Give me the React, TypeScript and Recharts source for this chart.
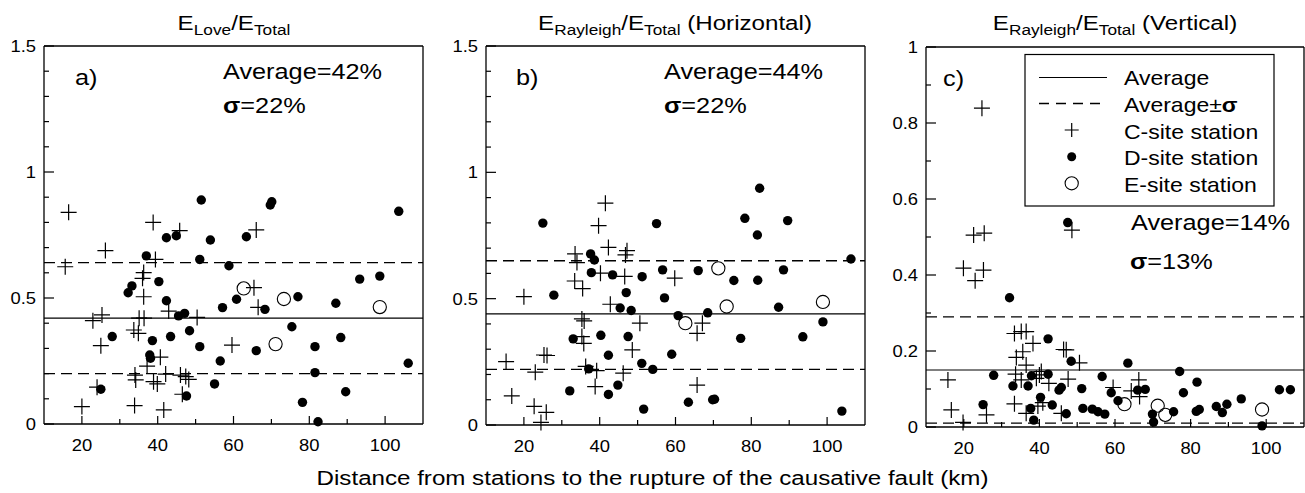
import React from 'react';
import { ScatterChart, Scatter, XAxis, YAxis, ReferenceLine } from 'recharts';

const FONT = '"Liberation Sans", Arial, Helvetica, sans-serif';
const SX = 1.15;

// [distance km, energy ratio]
const loveC = [
  [16.5, 0.84], [38.8, 0.8], [45.8, 0.767], [66.0, 0.77], [26.2, 0.688], [15.6, 0.624],
  [39.4, 0.653], [36.3, 0.601], [36.0, 0.578], [36.3, 0.505], [25.3, 0.433], [22.9, 0.41],
  [42.9, 0.448], [35.1, 0.42], [36.4, 0.42], [50.4, 0.423], [33.7, 0.373], [34.9, 0.36],
  [25.0, 0.311], [40.7, 0.265], [59.6, 0.313], [37.2, 0.23], [34.0, 0.194], [34.2, 0.175],
  [38.9, 0.168], [39.9, 0.159], [42.1, 0.198], [46.0, 0.194], [47.4, 0.188], [48.2, 0.177],
  [24.0, 0.146], [46.5, 0.118], [20.0, 0.069], [33.9, 0.073], [41.6, 0.056], [65.4, 0.541],
  [66.5, 0.463],
];
const loveD = [
  [51.5, 0.889], [69.7, 0.869], [70.1, 0.882], [103.6, 0.844], [42.3, 0.739], [44.9, 0.747],
  [53.9, 0.73], [63.4, 0.743], [37.0, 0.667], [51.1, 0.653], [58.8, 0.628], [93.3, 0.575],
  [98.6, 0.587], [40.3, 0.565], [32.2, 0.521], [33.2, 0.548], [42.3, 0.489], [60.8, 0.495],
  [57.1, 0.462], [77.0, 0.505], [87.0, 0.479], [68.3, 0.455], [45.5, 0.429], [47.1, 0.439],
  [75.4, 0.386], [28.0, 0.347], [38.6, 0.331], [43.4, 0.347], [48.4, 0.37], [51.1, 0.307],
  [66.0, 0.291], [81.5, 0.307], [88.3, 0.343], [37.9, 0.274], [38.1, 0.261], [56.5, 0.25],
  [106.1, 0.241], [81.5, 0.204], [55.0, 0.159], [25.0, 0.138], [47.6, 0.111], [78.2, 0.086],
  [89.6, 0.128], [82.3, 0.009],
];
const loveE = [[62.7, 0.538], [73.3, 0.496], [71.1, 0.317], [98.6, 0.464]];
const loveLines = [0.42, 0.64, 0.2];

const rhC = [
  [41.5, 0.878], [39.7, 0.789], [42.3, 0.703], [33.5, 0.677], [34.0, 0.643], [47.2, 0.69],
  [46.8, 0.673], [40.2, 0.601], [46.6, 0.588], [59.8, 0.581], [33.4, 0.57], [35.5, 0.54],
  [20.0, 0.508], [42.8, 0.478], [35.3, 0.42], [35.9, 0.412], [50.6, 0.403], [35.3, 0.35],
  [35.8, 0.323], [48.6, 0.297], [25.3, 0.277], [26.1, 0.275], [15.3, 0.251], [23.0, 0.209],
  [39.2, 0.215], [46.2, 0.205], [38.8, 0.152], [16.8, 0.115], [22.7, 0.074], [25.9, 0.05],
  [24.5, 0.01], [65.7, 0.158], [67.1, 0.403], [65.7, 0.363], [36.3, 0.232],
];
const rhD = [
  [25.0, 0.799], [55.0, 0.797], [82.2, 0.937], [78.3, 0.818], [89.6, 0.809], [81.6, 0.752],
  [37.6, 0.677], [38.6, 0.653], [37.8, 0.603], [43.4, 0.594], [51.2, 0.587], [56.6, 0.614],
  [66.0, 0.611], [75.4, 0.572], [81.7, 0.573], [88.5, 0.614], [106.3, 0.657], [27.9, 0.514],
  [47.0, 0.524], [57.1, 0.503], [45.4, 0.463], [48.3, 0.453], [60.7, 0.433], [68.5, 0.444],
  [87.2, 0.466], [98.9, 0.408], [33.0, 0.341], [40.3, 0.355], [47.5, 0.35], [77.2, 0.343],
  [93.6, 0.349], [42.3, 0.276], [59.0, 0.28], [51.1, 0.244], [37.1, 0.222], [54.0, 0.22],
  [32.1, 0.135], [42.3, 0.121], [44.8, 0.158], [51.6, 0.063], [63.4, 0.09], [69.8, 0.1],
  [70.3, 0.102], [103.9, 0.055],
];
const rhE = [[71.3, 0.62], [73.5, 0.469], [62.6, 0.403], [98.9, 0.487]];
const rhLines = [0.44, 0.65, 0.22];

const rvC = [
  [24.8, 0.839], [48.6, 0.518], [22.6, 0.505], [25.4, 0.51], [19.9, 0.418], [25.2, 0.413],
  [23.0, 0.385], [33.4, 0.246], [35.2, 0.251], [36.5, 0.251], [38.3, 0.22], [35.6, 0.198],
  [33.9, 0.183], [36.5, 0.163], [40.5, 0.146], [33.7, 0.139], [35.2, 0.124], [39.2, 0.128],
  [40.0, 0.137], [42.5, 0.115], [46.4, 0.204], [47.1, 0.203], [50.6, 0.169], [47.6, 0.126],
  [33.4, 0.061], [36.5, 0.036], [39.6, 0.055], [40.9, 0.064], [45.8, 0.036], [59.5, 0.104],
  [64.3, 0.095], [66.3, 0.124], [66.5, 0.08], [15.8, 0.124], [16.7, 0.045], [26.0, 0.032],
  [19.8, 0.012],
];
const rvD = [
  [47.5, 0.538], [32.1, 0.34], [42.3, 0.232], [48.4, 0.173], [63.4, 0.168], [77.1, 0.146],
  [27.9, 0.136], [37.9, 0.135], [42.3, 0.139], [56.6, 0.133], [81.7, 0.118], [33.0, 0.108],
  [37.0, 0.108], [45.8, 0.104], [45.2, 0.097], [51.2, 0.101], [59.0, 0.09], [66.0, 0.097],
  [68.0, 0.099], [78.1, 0.09], [60.8, 0.069], [40.3, 0.078], [25.1, 0.059], [43.4, 0.058],
  [37.7, 0.049], [47.1, 0.035], [51.5, 0.049], [54.0, 0.047], [55.5, 0.04], [57.3, 0.034],
  [38.5, 0.018], [69.9, 0.034], [70.2, 0.013], [75.5, 0.04], [81.5, 0.041], [82.3, 0.046],
  [86.8, 0.054], [88.4, 0.038], [89.6, 0.06], [93.4, 0.074], [98.9, 0.003], [103.5, 0.098],
  [106.4, 0.098],
];
const rvE = [[62.5, 0.06], [71.3, 0.056], [73.3, 0.032], [98.9, 0.046]];
const rvLines = [0.15, 0.29, 0.01];

const xTicks = [20, 30, 40, 50, 60, 70, 80, 90, 100];
const yTicksAB = [0, 0.1, 0.2, 0.3, 0.4, 0.5, 0.6, 0.7, 0.8, 0.9, 1, 1.1, 1.2, 1.3, 1.4, 1.5];
const yTicksC = [0, 0.1, 0.2, 0.3, 0.4, 0.5, 0.6, 0.7, 0.8, 0.9, 1];

const toPts = (arr: number[][]) => arr.map(([d, v]) => ({ d, v }));

// text stretched a bit wider, like the original figure
function T({ x, y, size, anchor = 'start', children }: any) {
  return (
    <text
      transform={`translate(${x},${y}) scale(${SX},1)`}
      fontSize={size}
      textAnchor={anchor}
      fontFamily={FONT}
      fill="#000"
    >
      {children}
    </text>
  );
}

const crossShape = (p: any) => {
  const { cx, cy } = p;
  if (cx == null || cy == null) return <g />;
  return <path d={`M${cx - 8},${cy}h16M${cx},${cy - 8}v16`} stroke="#000" strokeWidth={1.2} fill="none" />;
};
const dotShape = (p: any) => {
  const { cx, cy } = p;
  if (cx == null || cy == null) return <g />;
  return <circle cx={cx} cy={cy} r={4.7} fill="#000" />;
};
const ringShape = (p: any) => {
  const { cx, cy } = p;
  if (cx == null || cy == null) return <g />;
  return <circle cx={cx} cy={cy} r={6.6} fill="none" stroke="#000" strokeWidth={1.1} />;
};

const xTick = (p: any) => {
  const v = p.payload.value;
  const major = v % 20 === 0;
  return (
    <g>
      <line x1={p.x} x2={p.x} y1={p.y} y2={p.y - (major ? 8 : 5)} stroke="#000" strokeWidth={1.2} />
      {major && <T x={p.x} y={p.y + 27} size={16} anchor="middle">{v}</T>}
    </g>
  );
};

const makeYTick = (step: number) => (p: any) => {
  const v = p.payload.value;
  const major = Math.abs(v / step - Math.round(v / step)) < 1e-6;
  return (
    <g>
      <line x1={p.x} x2={p.x + (major ? 10 : 5)} y1={p.y} y2={p.y} stroke="#000" strokeWidth={1.2} />
      {major && <T x={p.x - 8} y={p.y + 6} size={16} anchor="end">{String(v)}</T>}
    </g>
  );
};

interface PanelProps {
  left: number;
  yw: number;
  top: number;
  w: number;
  h: number;
  yMax: number;
  yTicks: number[];
  step: number;
  lines: number[];
  c: number[][];
  dd: number[][];
  e: number[][];
}

function Panel({ left, yw, top, w, h, yMax, yTicks, step, lines, c, dd, e }: PanelProps) {
  return (
    <div style={{ position: 'absolute', left, top: 0 }}>
      <ScatterChart
        width={yw + w + 3}
        height={top + h + 40}
        margin={{ top, right: 3, bottom: 0, left: 0 }}
      >
        <XAxis
          type="number"
          dataKey="d"
          domain={[10, 110]}
          ticks={xTicks}
          interval={0}
          tick={xTick}
          tickLine={false}
          tickSize={0}
          tickMargin={0}
          height={40}
          axisLine={{ stroke: '#000', strokeWidth: 1.3 }}
        />
        <YAxis
          type="number"
          dataKey="v"
          domain={[0, yMax]}
          ticks={yTicks}
          interval={0}
          tick={makeYTick(step)}
          tickLine={false}
          tickSize={0}
          tickMargin={0}
          width={yw}
          axisLine={{ stroke: '#000', strokeWidth: 1.3 }}
        />
        <ReferenceLine y={yMax} stroke="#000" strokeWidth={1.3} />
        <ReferenceLine x={110} stroke="#000" strokeWidth={1.3} />
        <ReferenceLine y={lines[0]} stroke="#000" strokeWidth={1.2} />
        <ReferenceLine y={lines[1]} stroke="#000" strokeWidth={1.3} strokeDasharray="11 6" />
        <ReferenceLine y={lines[2]} stroke="#000" strokeWidth={1.3} strokeDasharray="11 6" />
        <Scatter data={toPts(c)} shape={crossShape} isAnimationActive={false} />
        <Scatter data={toPts(dd)} shape={dotShape} isAnimationActive={false} />
        <Scatter data={toPts(e)} shape={ringShape} isAnimationActive={false} />
      </ScatterChart>
    </div>
  );
}

export default function App() {
  return (
    <div style={{ position: 'absolute', left: 0, top: 0, width: 1305, height: 493, background: '#fff' }}>
      <Panel left={0} yw={44} top={46} w={379} h={378} yMax={1.5} yTicks={yTicksAB} step={0.5}
        lines={loveLines} c={loveC} dd={loveD} e={loveE} />
      <Panel left={440} yw={46} top={46} w={379} h={379} yMax={1.5} yTicks={yTicksAB} step={0.5}
        lines={rhLines} c={rhC} dd={rhD} e={rhE} />
      <Panel left={880} yw={46} top={47} w={378} h={380} yMax={1} yTicks={yTicksC} step={0.2}
        lines={rvLines} c={rvC} dd={rvD} e={rvE} />

      <svg width={1305} height={493} style={{ position: 'absolute', left: 0, top: 0, pointerEvents: 'none' }}>
        {/* titles */}
        <T x={234} y={30} size={21} anchor="middle">
          E<tspan fontSize={15} dy={5}>Love</tspan><tspan dy={-5}>/E</tspan><tspan fontSize={15} dy={5}>Total</tspan>
        </T>
        <T x={675} y={30} size={21} anchor="middle">
          E<tspan fontSize={15} dy={5}>Rayleigh</tspan><tspan dy={-5}>/E</tspan><tspan fontSize={15} dy={5}>Total</tspan>
          <tspan dy={-5}> (Horizontal)</tspan>
        </T>
        <T x={1115} y={30} size={21} anchor="middle">
          E<tspan fontSize={15} dy={5}>Rayleigh</tspan><tspan dy={-5}>/E</tspan><tspan fontSize={15} dy={5}>Total</tspan>
          <tspan dy={-5}> (Vertical)</tspan>
        </T>

        {/* panel notes */}
        <T x={75} y={85} size={22}>a)</T>
        <T x={223} y={79} size={22}>Average=42%</T>
        <T x={223} y={113} size={22}><tspan fontWeight="bold">σ</tspan>=22%</T>

        <T x={516} y={85} size={22}>b)</T>
        <T x={664} y={79} size={22}>Average=44%</T>
        <T x={664} y={113} size={22}><tspan fontWeight="bold">σ</tspan>=22%</T>

        <T x={943} y={86} size={22}>c)</T>
        <T x={1131} y={230} size={22}>Average=14%</T>
        <T x={1130} y={269} size={22}><tspan fontWeight="bold">σ</tspan>=13%</T>

        {/* legend */}
        <rect x={1025} y={54.5} width={249} height={151.5} fill="#fff" stroke="#000" strokeWidth={1.2} />
        <line x1={1039} x2={1107} y1={77.5} y2={77.5} stroke="#000" strokeWidth={1.2} />
        <line x1={1039} x2={1107} y1={103.5} y2={103.5} stroke="#000" strokeWidth={1.3} strokeDasharray="10 7" />
        <path d="M1064.7,130h14M1071.7,123v14" stroke="#000" strokeWidth={1.2} />
        <circle cx={1071.7} cy={156.7} r={4.5} fill="#000" />
        <circle cx={1071.7} cy={183.3} r={6.6} fill="none" stroke="#000" strokeWidth={1.1} />
        <T x={1124} y={85} size={20}>Average</T>
        <T x={1124} y={111.5} size={20}>Average±<tspan fontWeight="bold">σ</tspan></T>
        <T x={1124} y={138.5} size={20}>C-site station</T>
        <T x={1124} y={165} size={20}>D-site station</T>
        <T x={1124} y={192} size={20}>E-site station</T>

        {/* x axis title */}
        <T x={652.5} y={485} size={21} anchor="middle">
          Distance from stations to the rupture of the causative fault (km)
        </T>
      </svg>
    </div>
  );
}
